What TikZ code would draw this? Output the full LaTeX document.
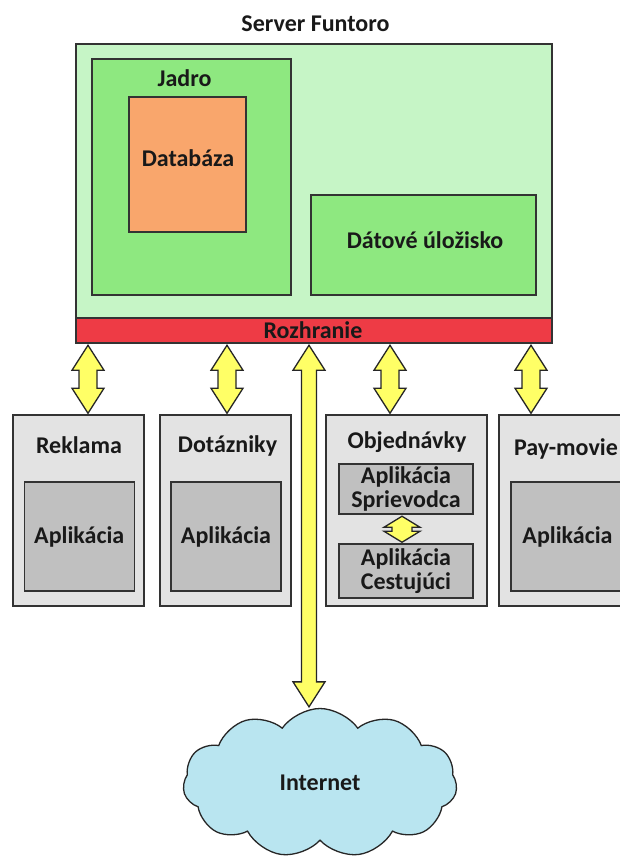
\documentclass[tikz,border=0pt]{standalone}
\usepackage{fontspec}
\setmainfont{Carlito}
\usetikzlibrary{shapes.symbols,calc}
\definecolor{srvgreen}{HTML}{C6F5C6}
\definecolor{coregreen}{HTML}{8EE880}
\definecolor{dborange}{HTML}{F9A66C}
\definecolor{rzred}{HTML}{EE3B45}
\definecolor{arrowyellow}{HTML}{FFFF66}
\definecolor{outergray}{HTML}{E3E3E3}
\definecolor{innergray}{HTML}{C0C0C0}
\definecolor{cloudblue}{HTML}{B9E5F0}
\tikzset{
  box/.style={draw=black!80, line width=1.5pt, rectangle, inner sep=0pt, anchor=center},
  lbl/.style={font=\fontsize{24}{24}\selectfont\bfseries, inner sep=0pt, text=black!90, align=center},
  blockarrow/.style={draw=black!85, line width=1.3pt, fill=arrowyellow, line join=miter},
}
\newcommand\dblarrow[6]{%
  \draw[blockarrow] let \p1=(#2), \p2=(#3) in
    (#1pt,\y1-1.5pt) -- (#1pt+#4pt,\y1-1.5pt-#6pt) -- (#1pt+#5pt,\y1-1.5pt-#6pt)
    -- (#1pt+#5pt,\y2+1pt+#6pt) -- (#1pt+#4pt,\y2+1pt+#6pt) -- (#1pt,\y2+1pt)
    -- (#1pt-#4pt,\y2+1pt+#6pt) -- (#1pt-#5pt,\y2+1pt+#6pt)
    -- (#1pt-#5pt,\y1-1.5pt-#6pt) -- (#1pt-#4pt,\y1-1.5pt-#6pt) -- cycle;}
\begin{document}
\begin{tikzpicture}[x=1pt,y=-1pt]
\clip (0,0) rectangle (620,860);
\fill[white] (0,0) rectangle (620,860);
% server
\node[lbl, anchor=base] (title) at (315.5,31) {Server Funtoro};
\node[box, fill=srvgreen, minimum width=476, minimum height=274] (server) at (314,181) {};
\node[box, fill=rzred, minimum width=476, minimum height=25] (rz) at (314,330.5) {};
\node[lbl, anchor=base] (rzt) at (313,338) {Rozhranie};
\node[box, fill=coregreen, minimum width=199, minimum height=236] (jadro) at (191.5,177) {};
\node[lbl, anchor=base] (jadrot) at (184.5,86) {Jadro};
\node[box, fill=dborange, minimum width=117, minimum height=135] (db) at (187.5,164.5) {};
\node[lbl, anchor=base] (dbt) at (188,166) {Databáza};
\node[box, fill=coregreen, minimum width=225, minimum height=100] (dat) at (423.5,245) {};
\node[lbl, anchor=base] (datt) at (425,248) {Dátové úložisko};
% clients
\node[box, fill=outergray, minimum width=131, minimum height=191] (rek) at (78.5,510.5) {};
\node[lbl, anchor=base] (rekt) at (79,453) {Reklama};
\node[box, lbl, draw=black!80, line width=1.5pt, fill=innergray, minimum width=110, minimum height=109] (rekapp) at (79.25,536.5) {Aplikácia};
\node[box, fill=outergray, minimum width=131, minimum height=191] (dot) at (225.5,510.5) {};
\node[lbl, anchor=base] (dott) at (227.5,452) {Dotázniky};
\node[box, lbl, draw=black!80, line width=1.5pt, fill=innergray, minimum width=110, minimum height=109] (dotapp) at (226,536.5) {Aplikácia};
\node[box, fill=outergray, minimum width=161, minimum height=191] (obj) at (406.5,510.5) {};
\node[lbl, anchor=base] (objt) at (407,448) {Objednávky};
\node[box, lbl, draw=black!80, line width=1.5pt, fill=innergray, minimum width=134, minimum height=50] (spr) at (406,489) {Aplikácia\\Sprievodca};
\node[box, lbl, draw=black!80, line width=1.5pt, fill=innergray, minimum width=134, minimum height=54] (ces) at (406,571) {Aplikácia\\Cestujúci};
\node[box, fill=outergray, minimum width=135, minimum height=191] (pay) at (566.5,510.5) {};
\node[lbl, anchor=base] (payt) at (566,455) {Pay-movie};
\node[box, lbl, draw=black!80, line width=1.5pt, fill=innergray, minimum width=113, minimum height=109] (payapp) at (567.5,536.5) {Aplikácia};
% cloud
\node[cloud, cloud puffs=11, cloud puff arc=110, aspect=1.8, draw=black!85, line width=1.3pt, fill=cloudblue, minimum width=274, minimum height=149, inner sep=0pt, lbl] (cloud) at (320,783) {Internet};
% arrows
\dblarrow{88}{rz.south}{rek.north}{16}{9}{25}
\dblarrow{227}{rz.south}{dot.north}{16}{9}{25}
\dblarrow{390}{rz.south}{obj.north}{16}{9}{25}
\dblarrow{531}{rz.south}{pay.north}{16}{9}{25}
\dblarrow{309}{rz.south}{cloud.north}{16}{7.5}{25}
\dblarrow{402}{spr.south}{ces.north}{18}{10}{11}
\end{tikzpicture}
\end{document}
